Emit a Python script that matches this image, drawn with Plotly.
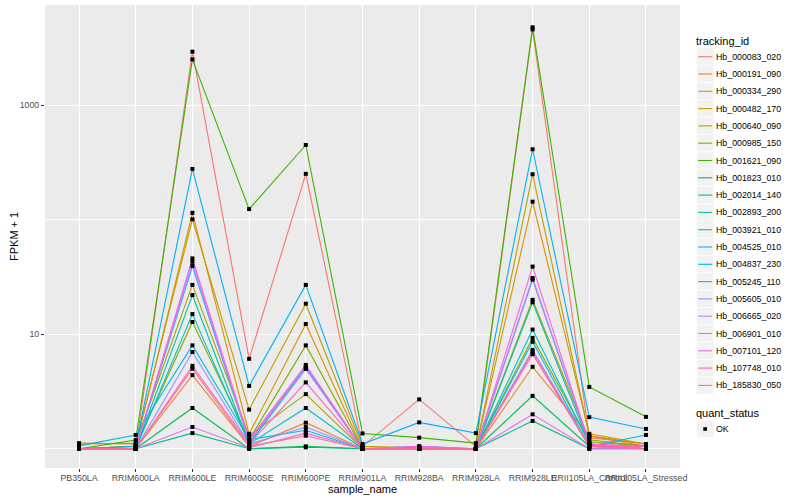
import plotly.graph_objects as go

samples = ["PB350LA", "RRIM600LA", "RRIM600LE", "RRIM600SE", "RRIM600PE", "RRIM901LA",
           "RRIM928BA", "RRIM928LA", "RRIM928LE", "RRII105LA_Control", "RRII105LA_Stressed"]

tracking_ids = ["Hb_000083_020", "Hb_000191_090", "Hb_000334_290", "Hb_000482_170",
                "Hb_000640_090", "Hb_000985_150", "Hb_001621_090", "Hb_001823_010",
                "Hb_002014_140", "Hb_002893_200", "Hb_003921_010", "Hb_004525_010",
                "Hb_004837_230", "Hb_005245_110", "Hb_005605_010", "Hb_006665_020",
                "Hb_006901_010", "Hb_007101_120", "Hb_107748_010", "Hb_185830_050"]

colors = ["#F8766D", "#EA8331", "#D89000", "#C09B00", "#A3A500", "#7CAE00", "#39B600",
          "#00BB4E", "#00BF7D", "#00C1A3", "#00BFC4", "#00BAE0", "#00B0F6", "#35A2FF",
          "#9590FF", "#C77CFF", "#E76BF3", "#FA62DB", "#FF62BC", "#FF6C91"]

# FPKM values (plotted as FPKM + 1), one list per tracking_id, in sample order
fpkm_000083_020 = [0.0, 0.0, 2939, 5.1, 251, 0.05, 1.7, 0.05, 4599, 0.25, 0.1]
fpkm_000191_090 = [0.0, 0.0, 3.4, 0.05, 0.69, 0.0, 0.0, 0.0, 4.2, 0.3, 0.05]
fpkm_000334_290 = [0.0, 0.05, 114, 0.35, 11.3, 0.0, 0.0, 0.0, 143, 0.35, 0.1]
fpkm_000482_170 = [0.12, 0.1, 100, 1.2, 17.5, 0.05, 0.02, 0.0, 249, 0.3, 0.1]
fpkm_000640_090 = [0.1, 0.12, 26, 0.3, 2.0, 0.0, 0.0, 0.0, 19, 0.2, 0.05]
fpkm_000985_150 = [0.0, 0.05, 11.8, 0.2, 7.0, 0.0, 0.0, 0.0, 8.3, 0.15, 0.05]
fpkm_001621_090 = [0.0, 0.19, 2519, 123, 449, 0.36, 0.25, 0.12, 4799, 2.47, 0.9]
fpkm_001823_010 = [0.0, 0.0, 1.27, 0.0, 0.05, 0.0, 0.0, 0.0, 1.9, 0.05, 0.0]
fpkm_002014_140 = [0.0, 0.0, 0.37, 0.0, 0.03, 0.0, 0.0, 0.0, 0.75, 0.0, 0.0]
fpkm_002893_200 = [0.0, 0.0, 21, 0.1, 4.0, 0.0, 0.0, 0.0, 18, 0.1, 0.0]
fpkm_003921_010 = [0.0, 0.0, 14, 0.1, 1.27, 0.0, 0.0, 0.0, 10, 0.1, 0.0]
fpkm_004525_010 = [0.06, 0.32, 7.0, 0.2, 0.45, 0.0, 0.0, 0.0, 7.6, 0.05, 0.32]
fpkm_004837_230 = [0.0, 0.05, 277, 2.54, 26, 0.1, 0.7, 0.37, 412, 0.89, 0.49]
fpkm_005245_110 = [0.0, 0.0, 38.5, 0.15, 4.2, 0.0, 0.05, 0.0, 29, 0.1, 0.0]
fpkm_005605_010 = [0.0, 0.0, 6.0, 0.1, 0.55, 0.0, 0.0, 0.0, 6.3, 0.05, 0.0]
fpkm_006665_020 = [0.0, 0.0, 42, 0.15, 4.0, 0.0, 0.0, 0.0, 30, 0.1, 0.0]
fpkm_006901_010 = [0.0, 0.0, 0.55, 0.02, 0.37, 0.0, 0.0, 0.0, 1.0, 0.0, 0.0]
fpkm_007101_120 = [0.0, 0.0, 45, 0.2, 4.4, 0.0, 0.05, 0.0, 38, 0.1, 0.05]
fpkm_107748_010 = [0.0, 0.0, 4.3, 0.1, 2.8, 0.0, 0.0, 0.0, 6.0, 0.05, 0.05]
fpkm_185830_050 = [0.0, 0.0, 4.0, 0.05, 0.3, 0.0, 0.0, 0.0, 5.7, 0.05, 0.0]

series = [fpkm_000083_020, fpkm_000191_090, fpkm_000334_290, fpkm_000482_170,
          fpkm_000640_090, fpkm_000985_150, fpkm_001621_090, fpkm_001823_010,
          fpkm_002014_140, fpkm_002893_200, fpkm_003921_010, fpkm_004525_010,
          fpkm_004837_230, fpkm_005245_110, fpkm_005605_010, fpkm_006665_020,
          fpkm_006901_010, fpkm_007101_120, fpkm_107748_010, fpkm_185830_050]

quant_status = ["OK"]

FONT = "Liberation Sans, Arial, sans-serif"
W, H = 800, 500
L, R, T, B = 45, 120, 5, 32
PW, PH = W - L - R, H - T - B

def px(xp):
    return (xp - L) / PW

def py(yp):
    return (H - B - yp) / PH

fig = go.Figure()

for name, vals, col in zip(tracking_ids, series, colors):
    fig.add_trace(go.Scatter(
        x=samples, y=[v + 1 for v in vals], mode="lines", name=name,
        line=dict(color=col, width=1.1), showlegend=False, hoverinfo="skip"))

all_x, all_y = [], []
for vals in series:
    all_x += samples
    all_y += [v + 1 for v in vals]
fig.add_trace(go.Scatter(
    x=all_x, y=all_y, mode="markers", name=quant_status[0],
    marker=dict(color="black", size=4, symbol="square"), showlegend=False))

shapes = []
annotations = []

# axis titles
annotations.append(dict(x=0.5, y=py(489), xref="paper", yref="paper", text="sample_name",
                        showarrow=False, xanchor="center", yanchor="middle",
                        font=dict(family=FONT, size=11, color="black")))
annotations.append(dict(x=px(13.5), y=0.5, xref="paper", yref="paper", text="FPKM + 1",
                        showarrow=False, xanchor="center", yanchor="middle", textangle=-90,
                        font=dict(family=FONT, size=11, color="black")))

# legend: tracking_id
annotations.append(dict(x=px(694), y=py(40.7), xref="paper", yref="paper", text="tracking_id",
                        showarrow=False, xanchor="left", yanchor="middle",
                        font=dict(family=FONT, size=11, color="black")))
step = 17.3
for i, (name, col) in enumerate(zip(tracking_ids, colors)):
    cy = 56.7 + step * i
    shapes.append(dict(type="rect", xref="paper", yref="paper",
                       x0=px(696.5), x1=px(713.8), y0=py(cy - step / 2), y1=py(cy + step / 2),
                       fillcolor="#F2F2F2", line=dict(color="white", width=0.6), layer="above"))
    shapes.append(dict(type="line", xref="paper", yref="paper",
                       x0=px(698.2), x1=px(712.2), y0=py(cy), y1=py(cy),
                       line=dict(color=col, width=1.1), layer="above"))
    annotations.append(dict(x=px(714.3), y=py(cy), xref="paper", yref="paper", text=name,
                            showarrow=False, xanchor="left", yanchor="middle",
                            font=dict(family=FONT, size=8.8, color="black")))

# legend: quant_status
annotations.append(dict(x=px(694), y=py(412.7), xref="paper", yref="paper", text="quant_status",
                        showarrow=False, xanchor="left", yanchor="middle",
                        font=dict(family=FONT, size=11, color="black")))
cy = 429
shapes.append(dict(type="rect", xref="paper", yref="paper",
                   x0=px(696.5), x1=px(713.8), y0=py(cy - step / 2), y1=py(cy + step / 2),
                   fillcolor="#F2F2F2", line=dict(color="white", width=0.6), layer="above"))
shapes.append(dict(type="rect", xref="paper", yref="paper",
                   x0=px(703.3), x1=px(707), y0=py(cy - 1.8), y1=py(cy + 1.8),
                   fillcolor="black", line=dict(width=0), layer="above"))
annotations.append(dict(x=px(714.3), y=py(cy), xref="paper", yref="paper", text=quant_status[0],
                        showarrow=False, xanchor="left", yanchor="middle",
                        font=dict(family=FONT, size=8.8, color="black")))

fig.update_layout(
    width=W, height=H,
    margin=dict(l=L, r=R, t=T, b=B, pad=0),
    paper_bgcolor="white", plot_bgcolor="#EBEBEB",
    font=dict(family=FONT, size=8.8, color="#4D4D4D"),
    shapes=shapes, annotations=annotations,
    showlegend=False,
)

fig.update_xaxes(
    type="category", categoryorder="array", categoryarray=samples,
    range=[-0.6, len(samples) - 0.4],
    showgrid=True, gridcolor="white", gridwidth=1.1,
    zeroline=False, showline=False,
    ticks="outside", ticklen=3, tickcolor="#333333", tickwidth=1,
    ticklabelstandoff=-2,
    tickangle=0, tickfont=dict(family=FONT, size=8.8, color="#4D4D4D"),
)

fig.update_yaxes(
    type="log", range=[-0.168, 3.876],
    tickvals=[10, 1000], ticktext=["10", "1000"],
    showgrid=True, gridcolor="white", gridwidth=1.1,
    minor=dict(tickvals=[1, 100], showgrid=True, gridcolor="white", gridwidth=0.55, ticks=""),
    zeroline=False, showline=False,
    ticks="outside", ticklen=3, tickcolor="#333333", tickwidth=1,
    tickfont=dict(family=FONT, size=8.8, color="#4D4D4D"),
)

fig.write_html("out.html", config={"displayModeBar": False},
               post_script="document.body.style.margin='0';")
